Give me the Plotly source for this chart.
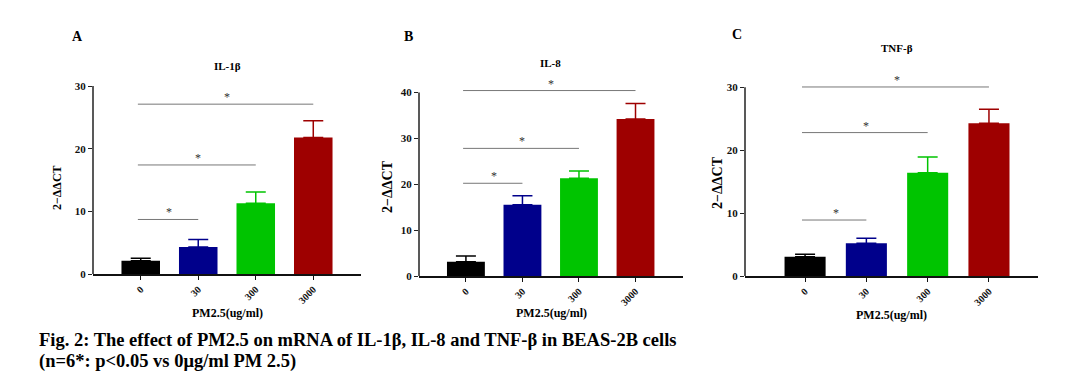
import plotly.graph_objects as go

# ---------------- data ----------------
categories = ["0", "30", "300", "3000"]
bar_colors = ["#000000", "#00008B", "#00C400", "#9E0000"]

il1b_mean = [2.1, 4.3, 11.3, 21.8]
il1b_err = [0.4, 1.2, 1.8, 2.65]
il1b_sig = [8.7, 17.4, 27.1]

il8_mean = [3.1, 15.5, 21.3, 34.2]
il8_err = [1.25, 2.0, 1.6, 3.4]
il8_sig = [20.2, 27.8, 40.4]

tnf_mean = [3.07, 5.2, 16.4, 24.3]
tnf_err = [0.4, 0.8, 2.5, 2.2]
tnf_sig = [8.9, 22.8, 30.05]

sig_pairs = [(0, 1), (0, 2), (0, 3)]

panel_letters = ["A", "B", "C"]
panel_titles = ["IL-1β", "IL-8", "TNF-β"]
y_ticks = [[0, 10, 20, 30], [0, 10, 20, 30, 40], [0, 10, 20, 30]]
x_title = "PM2.5(ug/ml)"
y_title = "2−ΔΔCT"
caption1 = "Fig. 2: The effect of PM2.5 on mRNA of IL-1β, IL-8 and TNF-β in BEAS-2B cells"
caption2 = "(n=6*: p<0.05 vs 0μg/ml PM 2.5)"

means = [il1b_mean, il8_mean, tnf_mean]
errs = [il1b_err, il8_err, tnf_err]
sigs = [il1b_sig, il8_sig, tnf_sig]

# ---------------- layout geometry ----------------
W, H = 1074, 380
FONT = "Liberation Serif"
x_domains = [[93 / W, 361 / W], [419 / W, 683 / W], [745 / W, 1038 / W]]
y_domains = [[1 - 274 / H, 1 - 86 / H], [1 - 276 / H, 1 - 87.8 / H], [1 - 276 / H, 1 - 81 / H]]
y_ranges = [[0, 30], [0, 41], [0, 31]]
x_ranges = [[-0.83, 3.83], [-0.83, 3.84], [-0.98, 3.8]]
letter_pos = [(77, 37), (408, 37), (737, 34)]
title_pos = [(227, 66), (550, 63), (897, 48)]
ytitle_pos = [(57, 188), (387, 187), (717, 183)]
ytitle_size = [12, 14, 14]
xtitle_y = [313, 313, 315]


def paper_note(x, y, text, size, **kw):
    d = dict(x=x / W, y=1 - y / H, xref="paper", yref="paper", text=text, showarrow=False,
             xanchor="center", yanchor="middle",
             font=dict(family=FONT, size=size, color="#000000"))
    d.update(kw)
    return d


fig = go.Figure()
shapes = []
annotations = []

for i in range(3):
    xa = "x" if i == 0 else f"x{i+1}"
    ya = "y" if i == 0 else f"y{i+1}"
    fig.add_trace(go.Bar(
        x=categories, y=means[i],
        marker=dict(color=bar_colors, line=dict(width=0)),
        width=0.67,
        xaxis=xa, yaxis=ya, showlegend=False,
    ))
    for k in range(4):
        fig.add_trace(go.Scatter(
            x=[categories[k]], y=[means[i][k]], mode="markers",
            marker=dict(size=0.1, color=bar_colors[k], opacity=0),
            error_y=dict(type="data", array=[errs[i][k]], arrayminus=[0], symmetric=False,
                         color=bar_colors[k], thickness=1.5, width=10),
            xaxis=xa, yaxis=ya, showlegend=False, hoverinfo="skip",
        ))

    axis_key = "" if i == 0 else str(i + 1)
    fig.update_layout(**{
        f"xaxis{axis_key}": dict(
            domain=x_domains[i], range=x_ranges[i], type="category", automargin=False,
            showline=True, linecolor="#111111", linewidth=1.5,
            ticks="outside", ticklen=4, tickwidth=1, tickcolor="#111111",
            tickangle=-45, showgrid=False, zeroline=False, anchor=ya,
            ticktext=[f"<b>{c}</b>" for c in categories], tickvals=categories,
            tickfont=dict(family=FONT, size=10, color="#111111"),
        ),
        f"yaxis{axis_key}": dict(
            domain=y_domains[i], range=y_ranges[i], tickvals=y_ticks[i], automargin=False,
            ticktext=[f"<b>{t}</b>" for t in y_ticks[i]],
            showline=False, ticks="outside", ticklen=4, tickwidth=1, tickcolor="#222222",
            showgrid=False, zeroline=False, anchor=xa,
            tickfont=dict(family=FONT, size=11, color="#111111"),
        ),
    })
    # y axis line up to top tick
    shapes.append(dict(type="line", xref=f"{xa} domain", x0=0, x1=0, yref=ya,
                       y0=0, y1=y_ticks[i][-1], line=dict(color="#222222", width=1.5)))
    # significance lines and stars
    for (a, b), h in zip(sig_pairs, sigs[i]):
        shapes.append(dict(type="line", xref=xa, yref=ya, x0=a - 0.05, x1=b, y0=h, y1=h,
                           line=dict(color="#777777", width=1)))
        annotations.append(dict(x=(a + b) / 2, y=h, xref=xa, yref=ya, text="*",
                                showarrow=False, xanchor="center", yanchor="bottom", yshift=-2,
                                font=dict(family=FONT, size=12, color="#333333")))
    lx, ly = letter_pos[i]
    annotations.append(paper_note(lx, ly, f"<b>{panel_letters[i]}</b>", 14))
    tx, ty = title_pos[i]
    annotations.append(paper_note(tx, ty, f"<b>{panel_titles[i]}</b>", 11))
    yx, yy = ytitle_pos[i]
    annotations.append(paper_note(yx, yy, f"<b>{y_title}</b>", ytitle_size[i], textangle=-90))
    annotations.append(dict(x=0.5, y=1 - xtitle_y[i] / H, xref=f"{xa} domain", yref="paper",
                            text=f"<b>{x_title}</b>", showarrow=False,
                            xanchor="center", yanchor="middle",
                            font=dict(family=FONT, size=12, color="#000000")))

annotations.append(paper_note(37, 340, f"<b>{caption1}</b>", 18.5, xanchor="left"))
annotations.append(paper_note(37, 361.5, f"<b>{caption2}</b>", 18.5, xanchor="left"))

fig.update_layout(
    template="none",
    width=W, height=H, margin=dict(l=0, r=0, t=0, b=0, pad=0),
    paper_bgcolor="white", plot_bgcolor="white",
    shapes=shapes, annotations=annotations, bargap=0.33,
)

fig.write_html("out.html", config={"displayModeBar": False},
               post_script="document.body.style.margin='0';")
